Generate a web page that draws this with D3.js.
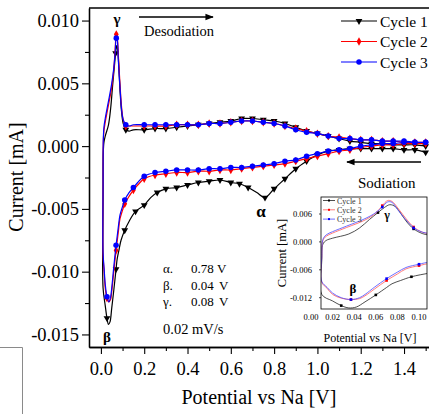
<!DOCTYPE html>
<html>
<head>
<meta charset="utf-8">
<script src="https://cdn.jsdelivr.net/npm/d3@7"></script>
<style>
body { margin: 0; background: #fff; }
svg { display: block; font-family: "Liberation Serif", "Times New Roman", serif; }
</style>
</head>
<body>
<svg id="chart" width="429" height="414"></svg>
<script>
// [potential V, current mA], sweep order: cathodic 1.5 -> 0.01 then anodic back to 1.5
var cycle1 = [
    [1.50,-0.0005],[1.45,-0.0003],[1.40,-0.0003],[1.35,-0.0002],[1.30,-0.0002],[1.25,-0.0002],
    [1.20,-0.0002],[1.15,-0.0002],[1.10,-0.0003],[1.05,-0.0004],[1.00,-0.0007],[0.95,-0.0012],
    [0.90,-0.0018],[0.85,-0.0026],[0.80,-0.0034],[0.758,-0.0041],[0.72,-0.0037],[0.68,-0.0033],
    [0.64,-0.0030],[0.60,-0.0029],[0.55,-0.0027],[0.50,-0.0028],[0.45,-0.0029],[0.40,-0.0031],
    [0.35,-0.0033],[0.30,-0.0034],[0.26,-0.0037],[0.23,-0.0041],[0.20,-0.0047],[0.16,-0.0052],
    [0.13,-0.0060],[0.11,-0.0067],[0.093,-0.0075],[0.083,-0.0083],[0.075,-0.0090],[0.07,-0.0098],
    [0.06,-0.0114],[0.05,-0.0129],[0.042,-0.0140],[0.035,-0.0142],[0.028,-0.0137],[0.02,-0.0127],
    [0.01,-0.0113],
    [0.010,-0.0040],[0.011,-0.0005],[0.014,0.0003],[0.02,0.0008],[0.035,0.0017],[0.045,0.0030],
    [0.054,0.0048],[0.062,0.0063],[0.068,0.0074],[0.073,0.0080],[0.078,0.0076],[0.083,0.0062],
    [0.088,0.0045],[0.095,0.0028],[0.103,0.0018],[0.115,0.0013],[0.13,0.0012],[0.15,0.0013],
    [0.20,0.0013],[0.25,0.0014],[0.30,0.0014],[0.35,0.0015],[0.40,0.0016],[0.45,0.0017],
    [0.50,0.0018],[0.55,0.0019],[0.60,0.0020],[0.65,0.0022],[0.70,0.0022],[0.75,0.0021],
    [0.80,0.0020],[0.85,0.0018],[0.90,0.0015],[0.95,0.0012],[1.00,0.0010],[1.05,0.0008],
    [1.10,0.0006],[1.15,0.0004],[1.20,0.0003],[1.25,0.0002],[1.30,0.0002],[1.35,0.0001],
    [1.40,0.0001],[1.45,0.0001],[1.50,0.0000]
];
var cycle2 = [
    [1.50,0.0002],[1.45,0.0002],[1.40,0.0002],[1.35,0.0001],[1.30,0.0001],[1.25,0.0000],
    [1.20,-0.0001],[1.15,-0.0003],[1.10,-0.0004],[1.05,-0.0006],[1.00,-0.0008],[0.95,-0.0010],
    [0.90,-0.0012],[0.85,-0.0014],[0.80,-0.0015],[0.75,-0.0016],[0.70,-0.0017],[0.65,-0.0018],
    [0.60,-0.0019],[0.55,-0.0019],[0.50,-0.0020],[0.45,-0.0020],[0.40,-0.0021],[0.35,-0.0021],
    [0.30,-0.0022],[0.25,-0.0023],[0.20,-0.0026],[0.17,-0.0031],[0.15,-0.0035],[0.13,-0.0040],
    [0.11,-0.0046],[0.10,-0.0051],[0.088,-0.0058],[0.08,-0.0069],[0.07,-0.0083],[0.059,-0.0101],
    [0.05,-0.0116],[0.045,-0.0122],[0.037,-0.0124],[0.028,-0.0121],[0.02,-0.0113],[0.015,-0.0100],
    [0.01,-0.0087],
    [0.010,-0.0030],[0.011,0.0003],[0.014,0.0012],[0.02,0.0019],[0.033,0.0031],[0.05,0.0047],
    [0.06,0.0062],[0.066,0.0078],[0.071,0.0089],[0.075,0.0087],[0.082,0.0068],[0.088,0.0050],
    [0.095,0.0032],[0.103,0.0021],[0.115,0.0016],[0.13,0.0016],[0.15,0.0016],[0.20,0.0016],
    [0.25,0.0016],[0.30,0.0016],[0.35,0.0017],[0.40,0.0017],[0.45,0.0017],[0.50,0.0018],
    [0.55,0.0018],[0.60,0.0019],[0.65,0.0020],[0.70,0.0020],[0.75,0.0019],[0.80,0.0018],
    [0.85,0.0016],[0.90,0.0014],[0.95,0.0012],[1.00,0.0010],[1.05,0.0008],[1.10,0.0007],
    [1.15,0.0006],[1.20,0.0005],[1.25,0.0005],[1.30,0.0004],[1.35,0.0004],[1.40,0.0003],
    [1.45,0.0003],[1.50,0.0003]
];
var cycle3 = [
    [1.50,0.0003],[1.45,0.0003],[1.40,0.0003],[1.35,0.0002],[1.30,0.0002],[1.25,0.0001],
    [1.20,0.0000],[1.15,-0.0002],[1.10,-0.0003],[1.05,-0.0004],[1.00,-0.0006],[0.95,-0.0008],
    [0.90,-0.0011],[0.85,-0.0012],[0.80,-0.0014],[0.75,-0.0015],[0.70,-0.0016],[0.65,-0.0017],
    [0.60,-0.0017],[0.55,-0.0018],[0.50,-0.0018],[0.45,-0.0019],[0.40,-0.0019],[0.35,-0.0019],
    [0.30,-0.0020],[0.25,-0.0021],[0.20,-0.0024],[0.17,-0.0029],[0.15,-0.0033],[0.13,-0.0037],
    [0.11,-0.0043],[0.10,-0.0048],[0.088,-0.0055],[0.08,-0.0065],[0.07,-0.0079],[0.059,-0.0097],
    [0.05,-0.0113],[0.045,-0.0120],[0.037,-0.0124],[0.028,-0.0120],[0.02,-0.0110],[0.015,-0.0098],
    [0.01,-0.0085],
    [0.010,-0.0030],[0.011,0.0005],[0.014,0.0015],[0.02,0.0022],[0.033,0.0034],[0.05,0.0050],
    [0.06,0.0063],[0.066,0.0075],[0.071,0.0086],[0.075,0.0085],[0.08,0.0070],[0.085,0.0055],
    [0.09,0.0042],[0.095,0.0030],[0.103,0.0021],[0.115,0.0017],[0.13,0.0016],[0.15,0.0017],
    [0.20,0.0017],[0.25,0.0017],[0.30,0.0017],[0.35,0.0017],[0.40,0.0017],[0.45,0.0017],
    [0.50,0.0018],[0.55,0.0018],[0.60,0.0019],[0.65,0.0020],[0.70,0.0020],[0.75,0.0019],
    [0.80,0.0018],[0.85,0.0016],[0.90,0.0013],[0.95,0.0011],[1.00,0.0010],[1.05,0.0008],
    [1.10,0.0006],[1.15,0.0006],[1.20,0.0005],[1.25,0.0005],[1.30,0.0004],[1.35,0.0004],
    [1.40,0.0004],[1.45,0.0003],[1.50,0.0003]
];

var seriesNames = ["Cycle 1", "Cycle 2", "Cycle 3"];
var xTicks = [0.0, 0.2, 0.4, 0.6, 0.8, 1.0, 1.2, 1.4];
var xMinor = [0.1, 0.3, 0.5, 0.7, 0.9, 1.1, 1.3, 1.5];
var yTicks = [-0.015, -0.010, -0.005, 0.000, 0.005, 0.010];
var yMinor = [-0.0125, -0.0075, -0.0025, 0.0025, 0.0075];
var insetXTicks = [0.00, 0.02, 0.04, 0.06, 0.08, 0.10];
var insetYTicks = [-0.012, -0.006, 0.000, 0.006];
var peakNames = ["α.", "β.", "γ."];
var peakValues = ["0.78", "0.04", "0.08"];

var colors = ["#000000", "#ff0000", "#0000ff"];
var shapes = [d3.symbolTriangle, d3.symbolDiamond, d3.symbolCircle];
var sizes = [20, 20, 24];
var rotations = [180, 0, 0];
var allCycles = [cycle1, cycle2, cycle3];

var svg = d3.select("#chart");
var m = { left: 89, top: 8, right: 430, bottom: 347 };

var x = d3.scaleLinear().domain([-0.055, 1.52]).range([m.left, m.right]);
var y = d3.scaleLinear().domain([-0.016, 0.011]).range([m.bottom, m.top]);

// stray frame of neighbouring panel (bottom left)
svg.append("path").attr("d", "M0,347.5H22.5V414").attr("fill", "none").attr("stroke", "#8a8a8a").attr("stroke-width", 1);

svg.append("clipPath").attr("id", "clipMain").append("rect")
    .attr("x", m.left).attr("y", m.top).attr("width", m.right - m.left).attr("height", m.bottom - m.top);

function markerPoints(data, xs, gap) {
    var out = [], last = -1e9;
    data.forEach(function (d) {
        var px = xs(d[0]);
        if (Math.abs(px - last) >= gap) { out.push(d); last = px; }
    });
    return out;
}

// Main curves
var plot = svg.append("g").attr("clip-path", "url(#clipMain)");
var line = d3.line()
    .x(function (d) { return x(d[0]); })
    .y(function (d) { return y(d[1]); })
    .curve(d3.curveCatmullRom.alpha(0.5));

allCycles.forEach(function (data, i) {
    plot.append("path")
        .attr("d", line(data))
        .attr("fill", "none")
        .attr("stroke", colors[i])
        .attr("stroke-width", 1.2);
    plot.selectAll(null)
        .data(markerPoints(data, x, 8.5))
        .enter().append("path")
        .attr("d", d3.symbol().type(shapes[i]).size(sizes[i]))
        .attr("transform", function (d) { return "translate(" + x(d[0]) + "," + y(d[1]) + ") rotate(" + rotations[i] + ")"; })
        .attr("fill", colors[i]);
});

// Axes
var fmtX = function (d) { return d.toFixed(1); };
var fmtY = function (d) { return d.toFixed(3); };

var gX = svg.append("g").attr("transform", "translate(0," + m.bottom + ")")
    .call(d3.axisBottom(x).tickValues(xTicks).tickFormat(fmtX).tickSize(7).tickPadding(8).tickSizeOuter(0));
svg.append("g").attr("transform", "translate(0," + m.bottom + ")")
    .call(d3.axisBottom(x).tickValues(xMinor).tickFormat("").tickSize(4).tickSizeOuter(0));
var gY = svg.append("g").attr("transform", "translate(" + m.left + ",0)")
    .call(d3.axisLeft(y).tickValues(yTicks).tickFormat(fmtY).tickSize(7).tickPadding(3).tickSizeOuter(0));
svg.append("g").attr("transform", "translate(" + m.left + ",0)")
    .call(d3.axisLeft(y).tickValues(yMinor).tickFormat("").tickSize(4).tickSizeOuter(0));

svg.selectAll(".domain").attr("stroke", "#000").attr("stroke-width", 1.3);
svg.selectAll(".tick line").attr("stroke", "#000").attr("stroke-width", 1.1);
svg.selectAll(".tick text").attr("font-family", "Liberation Serif, serif").attr("font-size", 18.5).attr("fill", "#000");

// top border
svg.append("line").attr("x1", m.left).attr("x2", 429).attr("y1", m.top).attr("y2", m.top)
    .attr("stroke", "#000").attr("stroke-width", 1.3);

// Axis titles
svg.append("text").attr("x", 259).attr("y", 404).attr("text-anchor", "middle")
    .attr("font-size", 20).text("Potential vs Na [V]");
svg.append("text").attr("transform", "translate(23,177) rotate(-90)").attr("text-anchor", "middle")
    .attr("font-size", 20).text("Current [mA]");

// Legend
seriesNames.forEach(function (name, i) {
    var ly = 21 + i * 20.5;
    svg.append("line").attr("x1", 341).attr("x2", 377).attr("y1", ly).attr("y2", ly)
        .attr("stroke", colors[i]).attr("stroke-width", 1.2);
    svg.append("path").attr("d", d3.symbol().type(shapes[i]).size(sizes[i]))
        .attr("transform", "translate(359," + ly + ") rotate(" + rotations[i] + ")")
        .attr("fill", colors[i]);
    svg.append("text").attr("x", 380).attr("y", ly + 5.5).attr("font-size", 15.5).text(name);
});

// Arrows and annotations
svg.append("defs").append("marker").attr("id", "head")
    .attr("viewBox", "0 0 10 10").attr("refX", 9).attr("refY", 5)
    .attr("markerWidth", 8).attr("markerHeight", 6).attr("orient", "auto-start-reverse")
    .append("path").attr("d", "M0,1L10,5L0,9Z").attr("fill", "#000");
svg.append("line").attr("x1", 139).attr("x2", 213).attr("y1", 17).attr("y2", 17)
    .attr("stroke", "#000").attr("stroke-width", 1.4).attr("marker-end", "url(#head)");
svg.append("line").attr("x1", 421).attr("x2", 347).attr("y1", 162).attr("y2", 162)
    .attr("stroke", "#000").attr("stroke-width", 1.4).attr("marker-end", "url(#head)");
svg.append("text").attr("x", 144).attr("y", 36).attr("font-size", 14.5).text("Desodiation");
svg.append("text").attr("x", 358).attr("y", 188).attr("font-size", 15).text("Sodiation");

svg.append("text").attr("x", 117).attr("y", 24).attr("text-anchor", "middle")
    .attr("font-size", 15).attr("font-weight", "bold").text("γ");
svg.append("text").attr("x", 261).attr("y", 217).attr("text-anchor", "middle")
    .attr("font-size", 17).attr("font-weight", "bold").text("α");
svg.append("text").attr("x", 107).attr("y", 342).attr("text-anchor", "middle")
    .attr("font-size", 15).attr("font-weight", "bold").text("β");

peakNames.forEach(function (n, i) {
    var ty = 273 + i * 16.5;
    svg.append("text").attr("x", 163).attr("y", ty).attr("font-size", 13).text(n);
    svg.append("text").attr("x", 191).attr("y", ty).attr("font-size", 13).text(peakValues[i]);
    svg.append("text").attr("x", i === 0 ? 217 : 219).attr("y", ty).attr("font-size", 13).text("V");
});
svg.append("text").attr("x", 163).attr("y", 334).attr("font-size", 14.5).text("0.02 mV/s");

// Inset
var ib = { left: 321, top: 197, right: 427, bottom: 309 };
var ix = d3.scaleLinear().domain([0.0, 0.10]).range([311, 419]);
var iy = d3.scaleLinear().domain([-0.012, 0.006]).range([297.7, 214]);

svg.append("clipPath").attr("id", "clipInset").append("rect")
    .attr("x", ib.left).attr("y", ib.top).attr("width", ib.right - ib.left).attr("height", ib.bottom - ib.top);
svg.append("rect").attr("x", ib.left).attr("y", ib.top).attr("width", ib.right - ib.left).attr("height", ib.bottom - ib.top)
    .attr("fill", "#fff");

var insetColors = ["#222222", "#ff5a5a", "#4b4bff"];
var iline = d3.line()
    .x(function (d) { return ix(d[0]); })
    .y(function (d) { return iy(d[1]); })
    .curve(d3.curveCatmullRom.alpha(0.5));
var ip = svg.append("g").attr("clip-path", "url(#clipInset)");
allCycles.forEach(function (data, i) {
    var part = data.filter(function (d) { return d[0] <= 0.135; });
    ip.append("path").attr("d", iline(part)).attr("fill", "none")
        .attr("stroke", insetColors[i]).attr("stroke-width", 0.8);
    ip.selectAll(null).data(markerPoints(part, ix, 30)).enter().append("rect")
        .attr("x", function (d) { return ix(d[0]) - 1.3; })
        .attr("y", function (d) { return iy(d[1]) - 1.3; })
        .attr("width", 2.6).attr("height", 2.6)
        .attr("fill", colors[i]);
});
svg.append("rect").attr("x", ib.left).attr("y", ib.top).attr("width", ib.right - ib.left).attr("height", ib.bottom - ib.top)
    .attr("fill", "none").attr("stroke", "#000").attr("stroke-width", 0.8);

insetXTicks.forEach(function (t) {
    svg.append("text").attr("x", ix(t)).attr("y", 320).attr("text-anchor", "middle")
        .attr("font-size", 8.5).text(t.toFixed(2));
});
insetYTicks.forEach(function (t) {
    svg.append("line").attr("x1", ib.left - 2).attr("x2", ib.left).attr("y1", iy(t)).attr("y2", iy(t))
        .attr("stroke", "#000").attr("stroke-width", 0.7);
    svg.append("text").attr("x", 312).attr("y", iy(t) + 3).attr("text-anchor", "end")
        .attr("font-size", 8.5).text(t.toFixed(3));
});
svg.append("text").attr("x", 370).attr("y", 342).attr("text-anchor", "middle")
    .attr("font-size", 12).text("Potential vs Na [V]");
svg.append("text").attr("transform", "translate(286,253) rotate(-90)").attr("text-anchor", "middle")
    .attr("font-size", 12.5).text("Current [mA]");
svg.append("text").attr("x", 387).attr("y", 219).attr("text-anchor", "middle")
    .attr("font-size", 12).attr("font-weight", "bold").text("γ");
svg.append("text").attr("x", 353).attr("y", 293).attr("text-anchor", "middle")
    .attr("font-size", 13).attr("font-weight", "bold").text("β");

seriesNames.forEach(function (name, i) {
    var ly = 200.5 + i * 9.3;
    svg.append("line").attr("x1", 323).attr("x2", 335).attr("y1", ly).attr("y2", ly)
        .attr("stroke", insetColors[i]).attr("stroke-width", 0.8);
    svg.append("rect").attr("x", 328).attr("y", ly - 1).attr("width", 2).attr("height", 2).attr("fill", colors[i]);
    svg.append("text").attr("x", 337).attr("y", ly + 3).attr("font-size", 8).attr("fill", "#333").text(name);
});
</script>
</body>
</html>
